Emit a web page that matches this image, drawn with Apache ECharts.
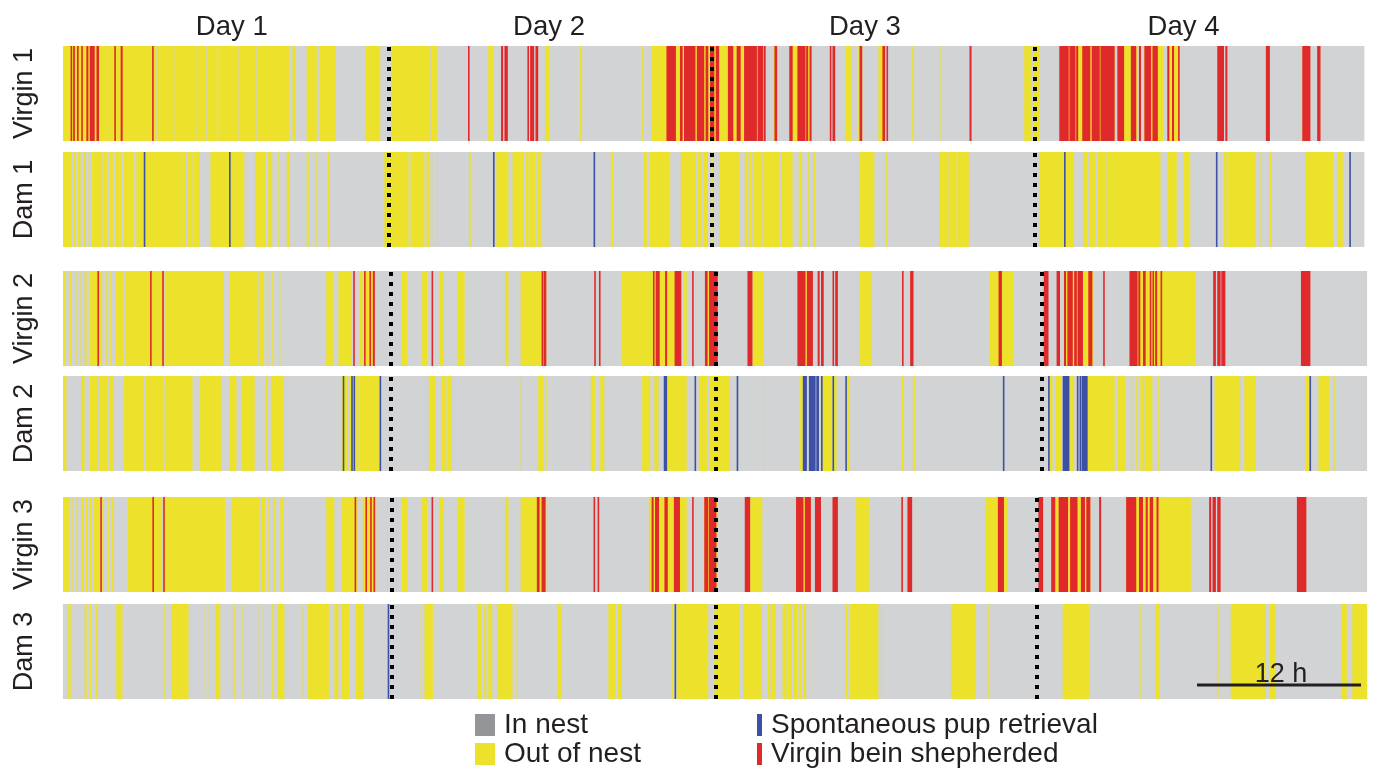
<!DOCTYPE html>
<html><head><meta charset="utf-8">
<script src="https://cdn.jsdelivr.net/npm/echarts@6/dist/echarts.min.js"></script>
<style>html,body{margin:0;padding:0;background:#fff}#c{width:1376px;height:773px}</style>
</head><body><div id="c"></div>
<script>
// ---- data (time in hours) ----
const rowNames = ['Virgin 1','Dam 1','Virgin 2','Dam 2','Virgin 3','Dam 3'];
const rowEnds = [96.4, 96.4, 96.6, 96.6, 96.6, 96.6];
const dayLabels = ['Day 1','Day 2','Day 3','Day 4'];
const dayLabelPos = [12.5, 36, 59.4, 83];
const dayBounds = [
  [24.1,48.05,72.0],[24.1,48.05,72.0],
  [24.3,48.37,72.5],[24.3,48.37,72.5],
  [24.37,48.37,72.15],[24.37,48.37,72.15]
];
const scaleBar = [84, 96.15];
const scaleBarLabel = '12 h';

const virgin1Out = [[0,3.4],[3.45,4.9],[4.95,6.9],[6.95,8.2],[8.25,9.9],[9.95,10.6],[10.65,11.4],[11.5,13.0],[13.05,14.3],[14.35,16.8],
 [17.0,17.25],[18.05,18.8],[19.0,20.2],[22.4,23.5],[24.3,27.2],[27.25,27.7],[31.5,31.85],[35.7,36.05],[38.3,38.45],[42.9,43.0],[43.6,47.9],
 [47.9,52.0],[52.6,52.9],[53.8,55.3],[57.97,58.4],[58.9,59.2],[60.4,60.95],[62.9,62.95],[65.0,65.05],[71.2,71.7],[71.9,72.3],
 [73.8,77.9],[78.1,79.6],[80.1,81.5],[81.8,82.7],[91.7,91.8]];
const virgin1Shep = [[0.56,0.66],[0.75,0.88],[1.04,1.16],[1.35,1.42],[1.73,1.88],[1.98,2.35],[2.48,2.67],[3.8,3.9],[4.27,4.42],[6.6,6.72],
 [30.0,30.1],[32.45,32.6],[32.7,32.95],[34.4,34.5],[34.6,34.9],[35.0,35.2],
 [44.7,45.4],[45.7,45.9],[46.0,46.85],[46.95,47.5],[47.6,47.8],
 [47.93,48.25],[48.35,48.6],[49.25,49.65],[49.9,50.2],[50.45,51.4],[51.45,51.85],[51.9,52.05],[52.7,52.9],[53.8,54.05],[54.4,55.0],[55.05,55.2],[55.3,55.45],[56.8,56.9],[57.0,57.2],[59.0,59.2],[60.7,60.9],[61.0,61.1],[67.15,67.3],
 [73.8,74.5],[74.55,75.0],[75.05,75.2],[75.5,76.1],[76.2,76.8],[76.85,77.9],[78.1,78.6],[79.1,79.5],[79.7,79.85],[80.1,80.6],[80.7,81.1],[81.8,81.95],[82.15,82.3],[82.6,82.7],[85.5,86.0],[86.1,86.25],[89.1,89.4],[91.8,92.4],[92.9,93.15]];

const dam1Out = [[0,0.66],[0.75,0.9],[1.1,1.3],[1.5,1.7],[1.9,2.0],[2.13,2.92],[3.0,3.3],[3.45,3.7],[3.9,4.3],[4.5,5.27],[5.43,8.73],[8.8,9.1],[9.2,9.6],[9.7,10.14],[10.92,13.43],[14.22,15.0],[15.2,15.5],[15.95,16.0],[16.57,16.8],[18.05,18.2],[18.77,18.85],[19.6,19.77],
 [23.8,25.6],[25.74,26.77],[26.93,27.2],[27.4,27.45],[27.7,27.75],[30.07,30.2],[32.1,33.0],[33.3,34.1],[34.3,34.5],[34.6,35.0],[35.1,35.4],[40.58,40.74],[43.03,43.25],[43.47,44.98],[45.76,46.86],[46.96,47.3],[47.4,47.74],
 [48.1,48.2],[48.6,50.1],[50.5,50.7],[50.8,51.0],[51.1,51.8],[51.9,53.1],[53.2,54.05],[54.5,54.75],[55.2,55.3],[55.6,55.7],[59.0,60.1],[60.95,61.0],[64.9,65.6],[65.7,66.2],[66.3,67.1],
 [72.35,74.9],[75.55,75.9],[76.0,76.5],[76.6,77.2],[77.3,78.85],[78.85,81.3],[81.8,82.5],[83.0,83.5],[86.0,86.2],[86.3,88.3],[88.7,88.8],[89.4,89.5],[92.0,94.1],[94.4,94.8]];
const dam1Retr = [[5.98,6.06],[12.3,12.38],[31.85,31.93],[39.3,39.38],[74.15,74.23],[85.4,85.48],[95.28,95.36]];

const virgin2Out = [[0,0.2],[0.5,0.6],[0.9,1.0],[1.3,1.4],[1.6,1.75],[2.0,2.55],[2.7,2.9],[3.2,3.3],[3.5,3.6],[3.9,4.5],[4.6,7.5],[7.6,11.9],[12.3,14.4],[14.5,14.9],[15.1,15.2],[15.5,15.6],[16.0,16.1],
 [19.5,20.0],[20.4,21.4],[22.0,22.2],[22.3,23.0],[25.05,25.5],[26.6,27.0],[27.9,28.2],[29.2,29.75],[32.75,33.0],[33.9,35.8],[41.4,45.8],[46.0,46.2],[47.6,48.3],
 [51.07,51.9],[54.4,55.5],[59.0,59.9],[68.6,70.4],[74.1,76.3],[79.0,83.9]];
const virgin2Shep = [[2.55,2.67],[6.45,6.53],[7.35,7.43],[21.5,21.6],[22.3,22.4],[22.7,22.8],[22.95,23.1],[27.3,27.4],[35.45,35.55],[35.6,35.8],[39.35,39.42],[39.7,39.77],[43.7,43.8],[43.9,44.2],[44.6,44.75],[45.3,45.8],[46.6,46.7],[47.55,47.75],[47.85,48.5],
 [50.7,51.07],[54.4,55.0],[55.1,55.55],[55.9,56.05],[56.15,56.35],[57.0,57.1],[57.2,57.4],[62.15,62.25],[62.75,63.0],[69.3,69.55],[72.65,73.0],[73.6,73.85],[74.15,74.3],[74.4,74.8],[74.9,75.1],[75.15,75.55],[75.95,76.25],[77.05,77.15],
 [79.0,79.6],[79.65,79.8],[80.0,80.2],[80.5,80.6],[80.7,80.8],[80.9,81.05],[81.3,81.4],[85.2,85.4],[85.5,85.75],[85.8,86.1],[91.7,92.4]];

const dam2Out = [[0,0.25],[1.35,1.6],[2.0,2.6],[2.7,3.3],[3.4,3.7],[4.5,6.0],[6.1,7.5],[7.6,9.6],[10.15,11.7],[12.3,12.85],[13.2,14.2],[15.0,15.15],[15.4,16.3],[20.6,21.1],[21.2,21.9],[22.0,23.5],
 [27.1,27.6],[28.0,28.4],[28.5,28.75],[33.9,33.95],[35.2,35.6],[35.75,35.8],[39.1,39.4],[39.8,40.1],[42.9,43.5],[43.8,44.1],[44.75,46.2],[47.1,47.7],[47.9,49.4],
 [51.85,51.9],[54.6,54.8],[56.2,57.0],[57.1,57.3],[57.95,58.3],[62.15,62.3],[62.95,63.1],[73.1,73.3],[73.5,74.0],[74.6,74.9],[75.9,77.9],[78.1,78.7],[79.1,79.2],[79.5,79.6],[79.8,80.1],[80.2,80.7],[81.1,81.15],
 [85.3,87.2],[87.5,88.3],[92.0,92.5],[93.0,93.8],[94.1,94.2]];
const dam2Retr = [[20.72,20.8],[21.35,21.42],[21.52,21.58],[23.45,23.52],[44.5,44.75],[46.78,46.84],
 [49.9,49.97],[54.8,55.1],[55.25,55.75],[55.8,56.0],[56.15,56.22],[57.0,57.08],[57.95,58.05],[69.62,69.7],[72.97,73.05],[74.05,74.55],[75.1,75.2],[75.3,75.4],[75.45,75.9],[85.0,85.07],[92.33,92.42]];

const virgin3Out = [[0,0.45],[0.7,0.8],[1.0,1.1],[1.4,1.5],[1.7,1.8],[2.0,2.1],[2.3,2.75],[2.9,3.0],[3.3,3.4],[3.6,3.7],[4.8,7.3],[7.4,12.0],[12.5,14.6],[14.7,15.0],[15.2,15.3],[15.6,15.7],[16.1,16.3],
 [19.5,20.1],[20.6,21.8],[22.2,23.2],[25.1,25.5],[26.6,27.0],[27.9,28.2],[29.2,29.75],[32.75,33.0],[33.9,35.8],[43.4,46.2],[47.5,48.5],
 [50.9,51.8],[54.3,55.4],[58.75,59.7],[68.3,69.96],[73.2,76.1],[78.75,83.55]];
const virgin3Shep = [[2.76,2.88],[6.62,6.74],[7.42,7.54],[21.6,21.72],[22.4,22.52],[22.75,22.87],[23.0,23.12],[27.3,27.4],[35.1,35.3],[35.45,35.75],[39.3,39.4],[39.6,39.7],[43.6,43.75],[43.85,44.15],[44.55,44.8],[45.25,45.7],[46.6,46.7],[47.5,47.8],[47.85,48.4],
 [50.5,50.9],[54.3,54.85],[54.95,55.4],[55.7,56.15],[57.0,57.4],[62.1,62.2],[62.55,62.9],[69.25,69.7],[72.25,72.6],[73.2,73.5],[73.75,74.45],[74.6,75.15],[75.4,75.7],[75.8,76.1],[76.75,76.9],
 [78.75,79.5],[79.7,80.0],[80.2,80.35],[80.5,80.75],[81.0,81.15],[84.9,85.05],[85.15,85.4],[85.5,85.75],[91.4,92.1]];

const dam3Out = [[0.35,0.4],[0.5,0.55],[1.6,1.75],[2.0,2.05],[2.45,2.5],[3.95,4.4],[7.5,7.55],[8.0,9.3],[10.5,10.55],[10.8,10.85],[11.3,11.65],[12.65,12.7],[13.3,13.35],[14.5,14.55],[14.8,14.85],[15.5,15.55],[15.85,16.4],[17.75,17.8],[18.15,19.7],[20.1,20.4],[20.6,21.2],[21.7,22.3],
 [26.5,26.55],[26.77,27.4],[30.7,31.0],[31.2,31.35],[31.5,31.8],[32.2,33.3],[33.6,33.65],[36.6,36.9],[40.4,40.9],[41.1,41.4],[45.1,45.15],[45.45,47.8],
 [48.25,50.1],[50.4,51.75],[52.2,52.4],[52.5,52.8],[53.3,53.6],[53.7,54.0],[54.1,54.4],[54.5,54.7],[54.85,55.05],[55.55,55.6],[58.0,58.05],[58.3,60.4],[60.6,60.65],[65.8,67.6],[68.5,68.55],
 [74.05,76.0],[79.75,79.8],[80.9,81.2],[85.5,85.6],[86.5,89.05],[89.4,89.8],[94.7,95.1],[95.5,96.6]];
const dam3Retr = [[24.05,24.12],[45.3,45.38]];

const outByRow = [virgin1Out, dam1Out, virgin2Out, dam2Out, virgin3Out, dam3Out];
const eventByRow = [virgin1Shep, dam1Retr, virgin2Shep, dam2Retr, virgin3Shep, dam3Retr];

// ---- styling / layout ----
const C_GRAY = '#d1d3d4', C_YEL = '#ece22c', C_RED = '#e0292b', C_BLUE = '#3c50a5', C_TXT = '#231f20';
const FONT = '"Liberation Sans", Arial, sans-serif';
const rowTops = [46, 152, 271, 376, 497, 604];
const rowH = 95;
const T_MAX = 96.8;
const PX_PER_H = 13.5;
const N_IN = 'In nest', N_OUT = 'Out of nest', N_RET = 'Spontaneous pup retrieval', N_SHEP = 'Virgin bein shepherded';

function rectRender(color, minW) {
  return function (params, api) {
    const s = api.coord([api.value(0), 0]);
    const e = api.coord([api.value(1), 0]);
    const h = api.size([0, 1])[1];
    const w = Math.max(e[0] - s[0], minW);
    return { type: 'rect', shape: { x: s[0], y: s[1] - h / 2, width: w, height: h }, style: { fill: color } };
  };
}

const grids = [], xAxes = [], yAxes = [], series = [];
rowNames.forEach((name, i) => {
  grids.push({ left: 63, top: rowTops[i], width: T_MAX * PX_PER_H, height: rowH });
  xAxes.push({
    gridIndex: i, type: 'value', min: 0, max: T_MAX,
    show: i === 0, position: 'top',
    axisLine: { show: false }, axisTick: { show: false }, splitLine: { show: false },
    axisLabel: i === 0 ? {
      customValues: dayLabelPos, margin: 5,
      formatter: (v) => dayLabels[dayLabelPos.indexOf(v)] || '',
      fontSize: 27.5, color: C_TXT, fontFamily: FONT
    } : { show: false }
  });
  yAxes.push({
    gridIndex: i, type: 'category', data: [name],
    axisLine: { show: false }, axisTick: { show: false }, splitLine: { show: false },
    axisLabel: { rotate: 90, margin: 25, fontSize: 27, color: C_TXT, fontFamily: FONT }
  });
  series.push({
    name: N_IN, type: 'custom', xAxisIndex: i, yAxisIndex: i, z: 1, silent: true,
    itemStyle: { color: '#939598' },
    renderItem: rectRender(C_GRAY, 1), encode: { x: [0, 1] },
    data: [[0, rowEnds[i]]],
    markLine: {
      silent: true, symbol: 'none', animation: false,
      label: { show: false },
      lineStyle: { color: '#000', width: 4, type: [4, 6], cap: 'butt' },
      data: dayBounds[i].map(v => ({ xAxis: v })), z: 10
    }
  });
  series.push({
    name: N_OUT, type: 'custom', xAxisIndex: i, yAxisIndex: i, z: 2, silent: true,
    itemStyle: { color: C_YEL },
    renderItem: rectRender(C_YEL, 1), encode: { x: [0, 1] },
    data: outByRow[i]
  });
  const isDam = name.indexOf('Dam') === 0;
  series.push({
    name: isDam ? N_RET : N_SHEP, type: 'custom', xAxisIndex: i, yAxisIndex: i, z: 3, silent: true,
    itemStyle: { color: isDam ? C_BLUE : C_RED },
    renderItem: rectRender(isDam ? C_BLUE : C_RED, 1.6), encode: { x: [0, 1] },
    data: eventByRow[i]
  });
});

// scale bar in the last row
series.push({
  name: 'scale', type: 'custom', xAxisIndex: 5, yAxisIndex: 5, z: 20, silent: true,
  encode: { x: [0, 1] },
  data: [scaleBar],
  renderItem: function (params, api) {
    const s = api.coord([api.value(0), 0]);
    const e = api.coord([api.value(1), 0]);
    const h = api.size([0, 1])[1];
    const yLine = s[1] + h / 2 - 14;
    return {
      type: 'group', children: [
        { type: 'line', shape: { x1: s[0], y1: yLine, x2: e[0], y2: yLine }, style: { stroke: '#231f20', lineWidth: 3 } },
        { type: 'text', style: { text: scaleBarLabel, x: (s[0] + e[0]) / 2 + 2, y: yLine + 3, align: 'center', verticalAlign: 'bottom', fontSize: 27, fontFamily: FONT, fill: C_TXT } }
      ]
    };
  }
});

function oneLegend(name, left, top, w) {
  return {
    data: [name], left: left, top: top, padding: 0, orient: 'vertical',
    itemWidth: w, itemHeight: 22, icon: 'rect', selectedMode: false,
    textStyle: { fontSize: 28, color: C_TXT, fontFamily: FONT, padding: [0, 0, 0, 4] }
  };
}
const chart = echarts.init(document.getElementById('c'), null, { renderer: 'canvas' });
chart.setOption({
  animation: false,
  backgroundColor: '#fff',
  grid: grids, xAxis: xAxes, yAxis: yAxes,
  legend: [
    oneLegend(N_IN, 475, 711, 20),
    oneLegend(N_OUT, 475, 740, 20),
    oneLegend(N_RET, 757, 711, 5),
    oneLegend(N_SHEP, 757, 740, 5)
  ],
  series: series
});
</script></body></html>
